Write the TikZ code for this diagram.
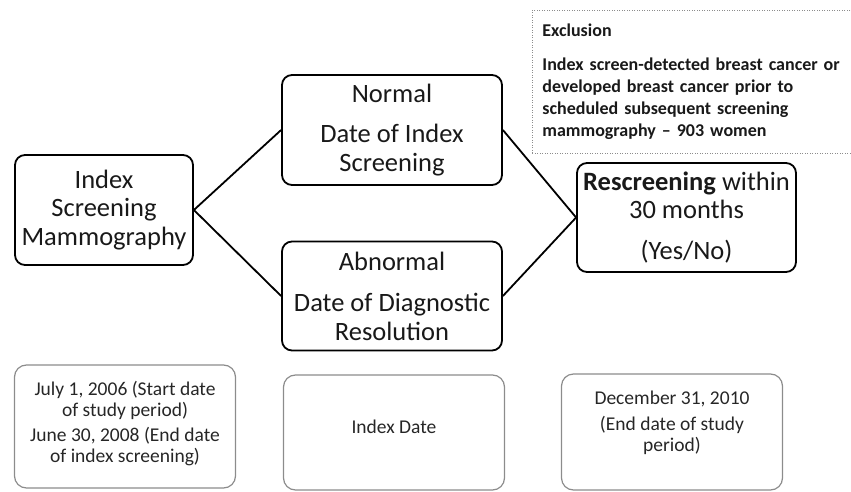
\documentclass[tikz,border=0pt]{standalone}
\usepackage{fontspec}
\setmainfont{Carlito}

\begin{document}
\begin{tikzpicture}[x=1pt, y=-1pt,
    flowbox/.style={draw, line width=1.8pt, rounded corners=10pt, align=center,
        inner sep=0pt, text=black!90, font=\fontsize{26.5}{28.5}\selectfont},
    datebox/.style={draw=black!45, line width=1.2pt, rounded corners=12pt,
        minimum width=221pt, inner sep=0pt},
    datetext/.style={align=center, inner sep=0pt, text=black!85,
        font=\fontsize{19.5}{21}\selectfont},
    link/.style={line width=1.8pt}]
    \useasboundingbox (0,0) rectangle (851,492);

    % Main flow
    \node[flowbox, minimum width=178pt, minimum height=110pt] (index) at (104,210)
        {Index\\Screening\\Mammography};
    \node[flowbox, minimum width=220pt, minimum height=110pt] (normal) at (392,130)
        {Normal\\[12pt]Date of Index\\Screening};
    \node[flowbox, minimum width=220pt, minimum height=109pt] (abnormal) at (392,296)
        {Abnormal\\[13pt]Date of Diagnostic\\Resolution};
    \node[flowbox, minimum width=219pt, minimum height=109pt] (rescreen) at (686.5,217.5)
        {\textbf{Rescreening} within\\30 months\\[12pt](Yes/No)};

    \draw[link] (index.east) -- (normal.west);
    \draw[link] (index.east) -- (abnormal.west);
    \draw[link] (normal.east) -- (rescreen.west);
    \draw[link] (abnormal.east) -- (rescreen.west);

    % Exclusion
    \node[draw=black!45, line width=0.9pt, dash pattern=on 1pt off 1.5pt,
        anchor=north west, text width=310pt, inner xsep=10pt, minimum height=143pt,
        align=left, text=black!90, font=\bfseries\fontsize{18}{22}\selectfont]
        (exclusion) at (532,10)
        {Exclusion\\[12pt]Index screen-detected breast cancer or\\developed breast cancer prior to\\scheduled subsequent screening\\mammography -- 903 women};

    % Dates
    \node[datebox, minimum height=123pt] (startbox) at (125,426.5) {};
    \node[datetext] (starttext) at (125,424)
        {July 1, 2006 (Start date\\of study period)\\[4pt]June 30, 2008 (End date\\of index screening)};
    \node[datebox, minimum height=115pt] (indexbox) at (394,432.5) {};
    \node[datetext] (indextext) at (394,427) {Index Date};
    \node[datebox, minimum height=116pt] (endbox) at (672,432) {};
    \node[datetext] (endtext) at (672,423)
        {December 31, 2010\\[5pt](End date of study\\period)};
\end{tikzpicture}
\end{document}
